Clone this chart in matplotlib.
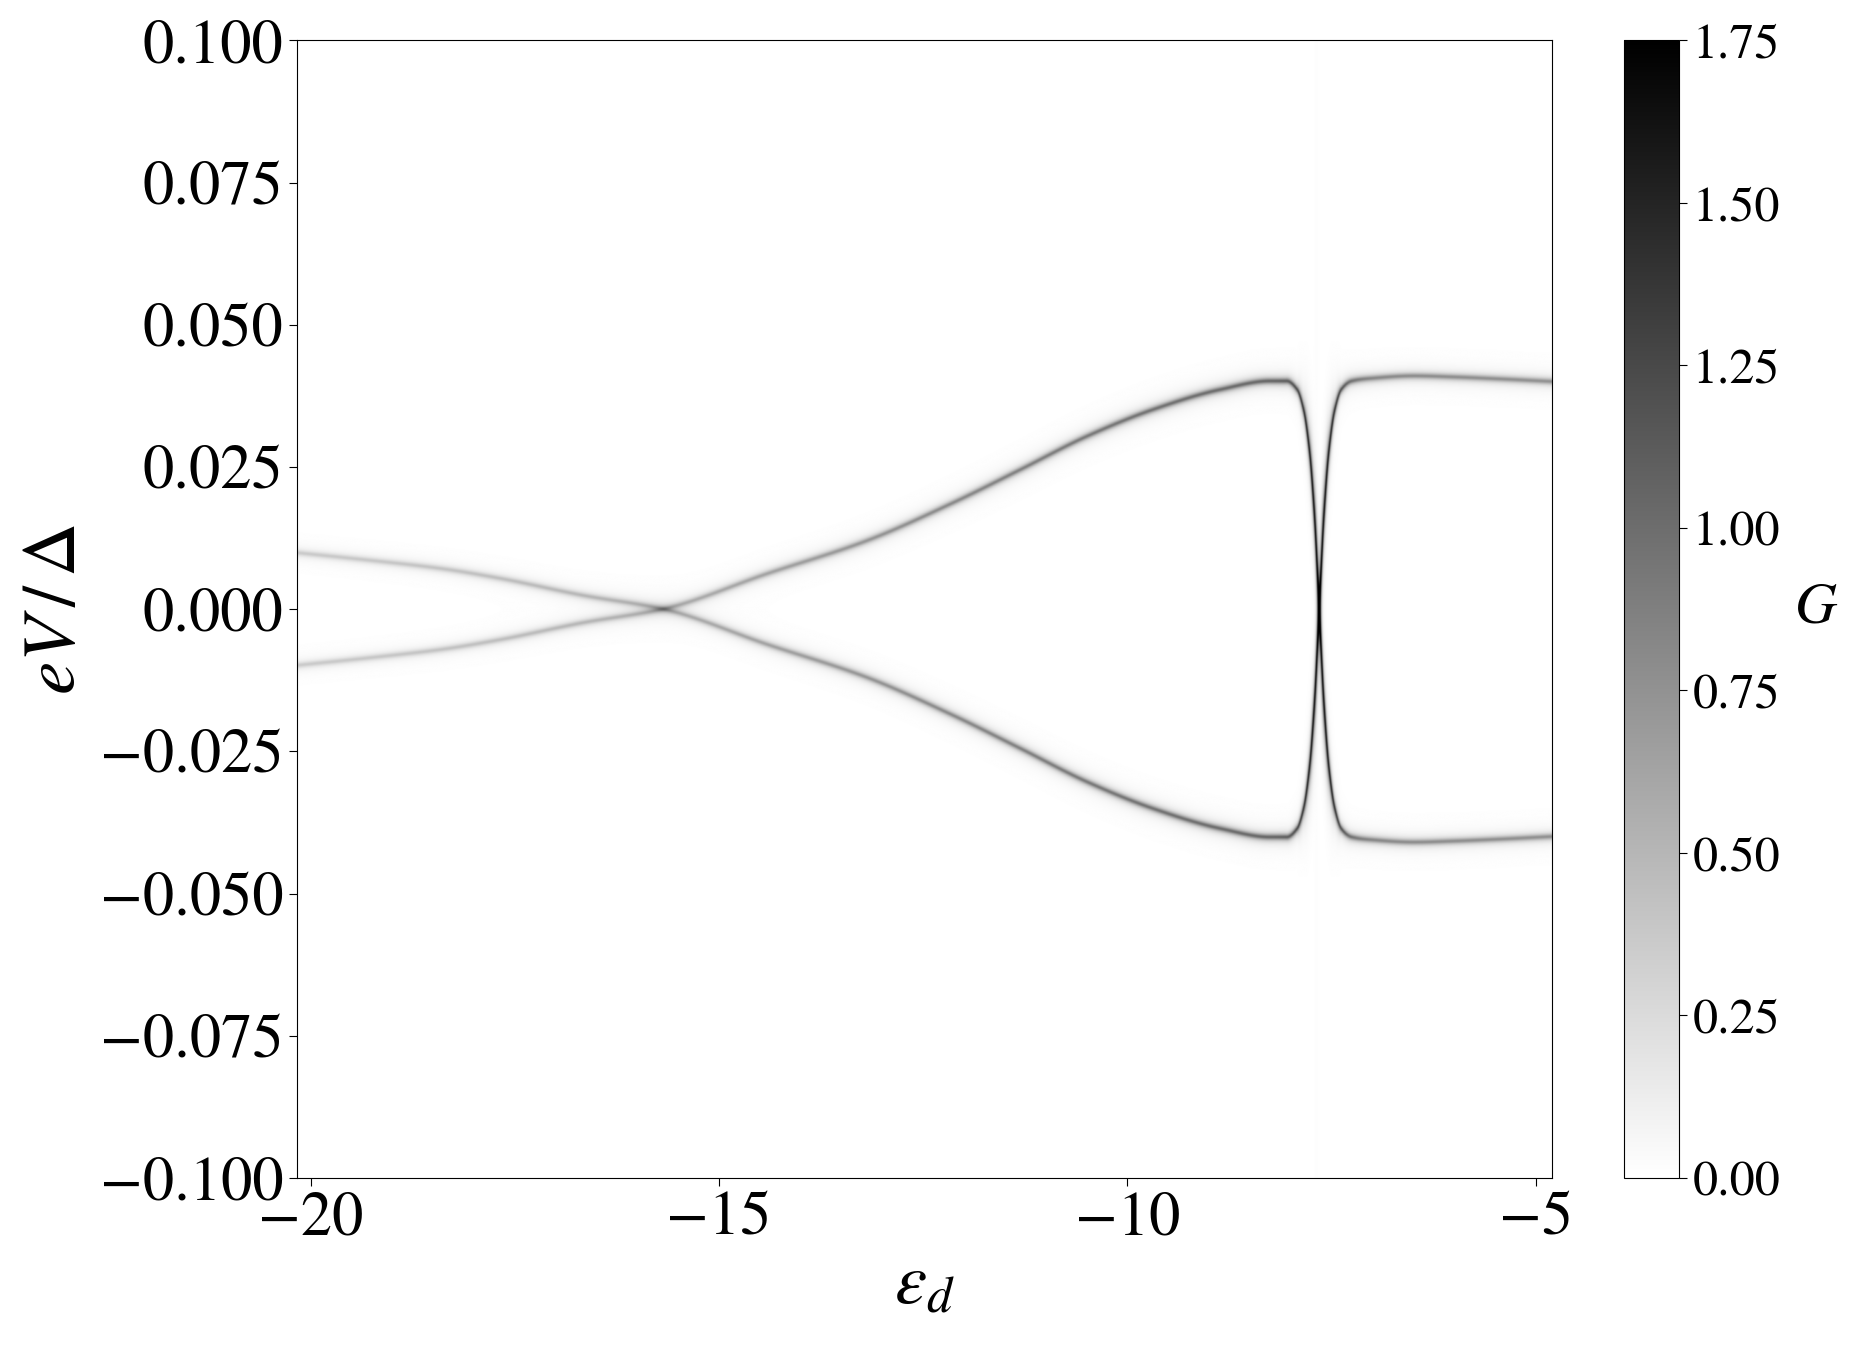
import numpy as np
import matplotlib
matplotlib.use('Agg')
import matplotlib.pyplot as plt
from matplotlib.ticker import FormatStrFormatter

plt.rcParams['font.family'] = 'STIXGeneral'
plt.rcParams['mathtext.fontset'] = 'stix'

# position of the rising branch (the other one is its mirror)
eps_pts = [-20.17, -19.3, -18.4, -17.69, -16.67, -15.69, -14.42, -13.2,
           -12.14, -11.32, -10.5, -9.69, -8.87, -8.26, -8.06, -7.93, -7.85,
           -7.78, -7.72, -7.66, -7.60, -7.54, -7.47, -7.39, -7.26, -7.0,
           -6.5, -6.0, -5.5, -4.8]
v_pts = [-0.0099, -0.0086, -0.0071, -0.0054, -0.0024, 0.0, 0.0062, 0.0120,
         0.0187, 0.0245, 0.0304, 0.0351, 0.0386, 0.0401, 0.0401, 0.0386, 0.0350,
         0.0280, 0.0170, 0.0, -0.0170, -0.0280, -0.0350, -0.0386, -0.0401, -0.0406,
         -0.0410, -0.0408, -0.0405, -0.0400]
# peak conductance along the branch
g_pts = [0.36, 0.38, 0.41, 0.44, 0.49, 0.54, 0.63, 0.72,
         0.80, 0.86, 0.91, 0.96, 1.00, 1.04, 1.08, 1.20, 1.35,
         1.50, 1.60, 1.65, 1.60, 1.50, 1.35, 1.15, 0.95, 0.82,
         0.78, 0.77, 0.76, 0.75]
line_width = 0.0005

# faint vertical stripe
stripe_eps = -7.69
stripe_g = 0.015
stripe_width = 0.03

eps_range = (-20.17, -4.80)
v_range = (-0.1, 0.1)
x_ticks = [-20, -15, -10, -5]
y_ticks = [-0.1, -0.075, -0.05, -0.025, 0.0, 0.025, 0.05, 0.075, 0.1]
cbar_ticks = [0.0, 0.25, 0.5, 0.75, 1.0, 1.25, 1.5, 1.75]


def pchip(x, xp, yp):
    # monotone cubic through the read points, so the branch has no kinks
    xp = np.asarray(xp, float)
    yp = np.asarray(yp, float)
    h = np.diff(xp)
    delta = np.diff(yp) / h
    m = np.zeros_like(yp)
    for k in range(1, len(xp) - 1):
        if delta[k - 1] * delta[k] > 0:
            w1 = 2 * h[k] + h[k - 1]
            w2 = h[k] + 2 * h[k - 1]
            m[k] = (w1 + w2) / (w1 / delta[k - 1] + w2 / delta[k])
    m[0] = delta[0]
    m[-1] = delta[-1]
    i = np.clip(np.searchsorted(xp, x) - 1, 0, len(xp) - 2)
    t = (x - xp[i]) / h[i]
    h00 = 2 * t ** 3 - 3 * t ** 2 + 1
    h10 = t ** 3 - 2 * t ** 2 + t
    h01 = -2 * t ** 3 + 3 * t ** 2
    h11 = t ** 3 - t ** 2
    return h00 * yp[i] + h10 * h[i] * m[i] + h01 * yp[i + 1] + h11 * h[i] * m[i + 1]


def conductance_map(n_eps=5000, n_v=1600):
    eps = np.linspace(eps_range[0], eps_range[1], n_eps)
    v = np.linspace(v_range[0], v_range[1], n_v)
    pos = pchip(eps, eps_pts, v_pts)
    height = pchip(eps, eps_pts, g_pts)
    # widen in V where the branch is steep so the stroke keeps some width
    slope = np.gradient(pos, eps) * (5685.0 / 81.7)
    gam = line_width * np.sqrt(1 + (0.45 * slope) ** 2)
    G = np.zeros((n_v, n_eps), dtype=np.float32)
    for sign in (1, -1):
        d = v[:, None] - sign * pos[None, :]
        lor = (height * gam ** 2)[None, :] / (d ** 2 + (gam ** 2)[None, :])
        G += lor * np.exp(-(d / 0.015) ** 2)
    G += stripe_g * np.exp(-((eps - stripe_eps) / stripe_width) ** 2)[None, :]
    return G


G = conductance_map()

fig = plt.figure(figsize=(18.65, 13.49), dpi=100)
ax = fig.add_axes([0.1592, 0.1268, 0.6730, 0.8432])
cax = fig.add_axes([0.8708, 0.1268, 0.0295, 0.8432])

im = ax.imshow(G, origin='lower', aspect='auto', cmap='gray_r', vmin=0, vmax=1.75,
               extent=[eps_range[0], eps_range[1], v_range[0], v_range[1]],
               interpolation='antialiased')
ax.set_xlim(eps_range)
ax.set_ylim(v_range)
ax.set_xticks(x_ticks)
ax.set_yticks(y_ticks)
ax.yaxis.set_major_formatter(lambda val, pos: ('%.3f' % val).replace('-', '\u2212'))
ax.tick_params(labelsize=45, length=6)
ax.set_xlabel(r'$\varepsilon_d$', fontsize=52, labelpad=4)
ax.set_ylabel(r'$eV\,/\,\Delta$', fontsize=54, labelpad=6)

cb = fig.colorbar(im, cax=cax, ticks=cbar_ticks)
cb.ax.yaxis.set_major_formatter(FormatStrFormatter('%.2f'))
cb.ax.tick_params(labelsize=36, length=6)
cb.set_label(r'$G$', fontsize=42, rotation=0, labelpad=26, va='center')

fig.savefig('out.png', dpi=100)
